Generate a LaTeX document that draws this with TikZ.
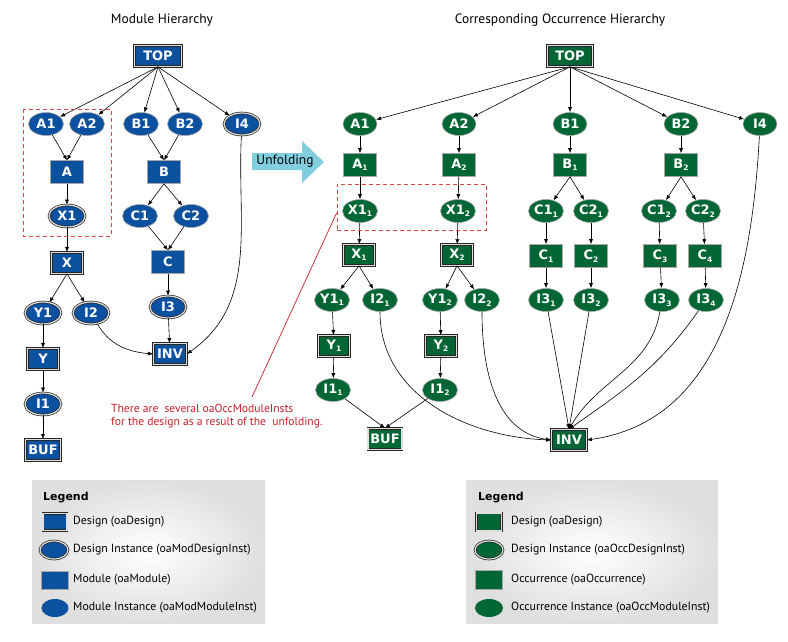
\documentclass[tikz,border=0pt]{standalone}
\usepackage{fontspec}
\setmainfont{PT Sans}
\newfontfamily\nodefont{DejaVu Sans}
\usetikzlibrary{arrows.meta,shapes.geometric}

\definecolor{modblue}{RGB}{12,80,160}
\definecolor{occgreen}{RGB}{0,102,51}
\definecolor{unfold}{RGB}{128,206,222}
\definecolor{notered}{RGB}{200,30,40}
\definecolor{dashred}{RGB}{222,70,70}

% small lowered index for occurrence names
\newcommand{\idx}[1]{\raisebox{-2.5pt}{\fontsize{7.5}{7.5}\selectfont #1}}

\tikzset{
  lbl/.style={text=white, font=\nodefont\bfseries\fontsize{13}{13}\selectfont, inner sep=0pt},
  modbox/.style={lbl, rectangle, draw=gray!70, line width=0.6pt, minimum width=33pt, minimum height=23pt},
  modoval/.style={lbl, ellipse, draw=gray!70, line width=0.6pt, minimum width=35pt, minimum height=23pt},
  desbox/.style={lbl, rectangle, draw=black!85, line width=0.7pt, double=gray!25, double distance=1.2pt, minimum width=31pt, minimum height=21pt},
  desoval/.style={lbl, ellipse, draw=black!85, line width=0.7pt, double=gray!25, double distance=1.2pt, minimum width=36pt, minimum height=22pt},
  mh/.style={fill=modblue},
  oh/.style={fill=occgreen},
  edge/.style={-{Latex[length=5pt,width=4pt]}, line width=0.6pt},
  dashbox/.style={draw=dashred, line width=0.8pt, dash pattern=on 4pt off 3pt},
  title/.style={font=\fontsize{13.5}{13.5}\selectfont},
  legtext/.style={font=\fontsize{11.8}{11.8}\selectfont, anchor=west, inner sep=0pt},
  leghead/.style={font=\nodefont\bfseries\fontsize{11}{11}\selectfont, anchor=west, inner sep=0pt},
}

\begin{document}
\begin{tikzpicture}[x=1pt,y=-1pt]
  \useasboundingbox (0,0) rectangle (788,641);

  % titles
  \node[title] (mtitle) at (162,20) {Module Hierarchy};
  \node[title] (otitle) at (560,20) {Corresponding Occurrence Hierarchy};

  % module hierarchy
  \node[desbox, mh, minimum width=47pt] (mTOP) at (158,56) {TOP};
  \node[modoval, mh] (mA1) at (46,124) {A1};
  \node[modoval, mh] (mA2) at (87,124) {A2};
  \node[modoval, mh] (mB1) at (141,124) {B1};
  \node[modoval, mh] (mB2) at (185,124) {B2};
  \node[desoval, mh] (mI4) at (242,124) {I4};
  \node[modbox, mh] (mA) at (67,172) {A};
  \node[modbox, mh] (mB) at (164,172) {B};
  \node[desoval, mh] (mX1) at (67,216) {X1};
  \node[modoval, mh] (mC1) at (140,216) {C1};
  \node[modoval, mh] (mC2) at (191,216) {C2};
  \node[desbox, mh] (mX) at (67,263) {X};
  \node[modbox, mh] (mC) at (168,262) {C};
  \node[desoval, mh] (mY1) at (43,313) {Y1};
  \node[desoval, mh] (mI2) at (91,313) {I2};
  \node[desoval, mh] (mI3) at (168,307) {I3};
  \node[desbox, mh, minimum width=33pt] (mINV) at (170,354) {INV};
  \node[desbox, mh] (mY) at (43,359) {Y};
  \node[desoval, mh] (mI1) at (43,404) {I1};
  \node[desbox, mh, minimum width=35pt] (mBUF) at (43,450) {BUF};

  \foreach \t in {mA1,mA2,mB1,mB2,mI4}
    \draw[edge] (mTOP.south) -- (\t);
  \draw[edge] (mA1) -- (mA.north);
  \draw[edge] (mA2) -- (mA.north);
  \draw[edge] (mB1) -- (mB.north);
  \draw[edge] (mB2) -- (mB.north);
  \draw[edge] (mA) -- (mX1);
  \draw[edge] (mB.south) -- (mC1);
  \draw[edge] (mB.south) -- (mC2);
  \draw[edge] (mC1) -- (mC.north);
  \draw[edge] (mC2) -- (mC.north);
  \draw[edge] (mX1) -- (mX);
  \draw[edge] (mX.south) -- (mY1);
  \draw[edge] (mX.south) -- (mI2);
  \draw[edge] (mY1) -- (mY);
  \draw[edge] (mY) -- (mI1);
  \draw[edge] (mI1) -- (mBUF);
  \draw[edge] (mC) -- (mI3);
  \draw[edge] (mI3) -- (mINV);
  \draw[edge] (mI2) to[out=-60, in=175] (mINV.west);
  \draw[edge] (mI4) to[out=-93, in=35] (mINV.east);

  \draw[dashbox] (23,109) rectangle (111,236);

  % unfolding arrow
  \fill[unfold] (252,153) -- (302,153) -- (302,141) -- (324,162) -- (302,183) -- (302,170) -- (252,170) -- cycle;
  \node[font=\fontsize{13.5}{13.5}\selectfont] (unfolding) at (285,161) {Unfolding};

  % occurrence hierarchy
  \node[desbox, oh, minimum width=45pt] (oTOP) at (570,56) {TOP};
  \node[modoval, oh, minimum width=34pt] (oA1) at (360,124) {A1};
  \node[modoval, oh, minimum width=34pt] (oA2) at (459,124) {A2};
  \node[modoval, oh, minimum width=34pt] (oB1) at (570,124) {B1};
  \node[modoval, oh, minimum width=34pt] (oB2) at (681,124) {B2};
  \node[modoval, oh, minimum width=34pt] (oI4) at (760,124) {I4};
  \node[modbox, oh] (oA1x) at (360,165) {A\idx{1}};
  \node[modbox, oh] (oA2x) at (459,165) {A\idx{2}};
  \node[modbox, oh] (oB1x) at (570,165) {B\idx{1}};
  \node[modbox, oh] (oB2x) at (681,165) {B\idx{2}};
  \node[modoval, oh] (oX11) at (360,211) {X1\idx{1}};
  \node[modoval, oh] (oX12) at (458,211) {X1\idx{2}};
  \node[modoval, oh] (oC11) at (546,211) {C1\idx{1}};
  \node[modoval, oh] (oC21) at (591,211) {C2\idx{1}};
  \node[modoval, oh] (oC12) at (659,211) {C1\idx{2}};
  \node[modoval, oh] (oC22) at (703,211) {C2\idx{2}};
  \node[desbox, oh] (oX1) at (359,255) {X\idx{1}};
  \node[desbox, oh] (oX2) at (457,255) {X\idx{2}};
  \node[modbox, oh] (oC1) at (546,256) {C\idx{1}};
  \node[modbox, oh] (oC2) at (591,256) {C\idx{2}};
  \node[modbox, oh] (oC3) at (660,256) {C\idx{3}};
  \node[modbox, oh] (oC4) at (705,256) {C\idx{4}};
  \node[modoval, oh] (oY11) at (332,300) {Y1\idx{1}};
  \node[modoval, oh] (oI21) at (380,300) {I2\idx{1}};
  \node[modoval, oh] (oY12) at (440,300) {Y1\idx{2}};
  \node[modoval, oh] (oI22) at (482,300) {I2\idx{2}};
  \node[modoval, oh] (oI31) at (546,300) {I3\idx{1}};
  \node[modoval, oh] (oI32) at (591,300) {I3\idx{2}};
  \node[modoval, oh] (oI33) at (662,300) {I3\idx{3}};
  \node[modoval, oh] (oI34) at (706,300) {I3\idx{4}};
  \node[desbox, oh] (oY1) at (334,346) {Y\idx{1}};
  \node[desbox, oh] (oY2) at (441,346) {Y\idx{2}};
  \node[modoval, oh] (oI11) at (333,390) {I1\idx{1}};
  \node[modoval, oh] (oI12) at (440,390) {I1\idx{2}};
  \node[desbox, oh, minimum width=34pt] (oBUF) at (385,439) {BUF};
  \node[desbox, oh, minimum width=35pt] (oINV) at (569,440) {INV};

  \foreach \t in {oA1,oA2,oB1,oB2,oI4}
    \draw[edge] (oTOP.south) -- (\t);
  \draw[edge] (oA1) -- (oA1x);
  \draw[edge] (oA2) -- (oA2x);
  \draw[edge] (oB1) -- (oB1x);
  \draw[edge] (oB2) -- (oB2x);
  \draw[edge] (oA1x) -- (oX11);
  \draw[edge] (oA2x) -- (oX12);
  \draw[edge] (oB1x.south) -- (oC11);
  \draw[edge] (oB1x.south) -- (oC21);
  \draw[edge] (oB2x.south) -- (oC12);
  \draw[edge] (oB2x.south) -- (oC22);
  \draw[edge] (oX11) -- (oX1);
  \draw[edge] (oX12) -- (oX2);
  \draw[edge] (oC11) -- (oC1);
  \draw[edge] (oC21) -- (oC2);
  \draw[edge] (oC12) -- (oC3);
  \draw[edge] (oC22) -- (oC4);
  \draw[edge] (oC1) -- (oI31);
  \draw[edge] (oC2) -- (oI32);
  \draw[edge] (oC3) -- (oI33);
  \draw[edge] (oC4) -- (oI34);
  \draw[edge] (oX1.south) -- (oY11);
  \draw[edge] (oX1.south) -- (oI21);
  \draw[edge] (oX2.south) -- (oY12);
  \draw[edge] (oX2.south) -- (oI22);
  \draw[edge] (oY11) -- (oY1);
  \draw[edge] (oY12) -- (oY2);
  \draw[edge] (oY1) -- (oI11);
  \draw[edge] (oY2) -- (oI12);
  \draw[edge] (oI11) -- (oBUF.north);
  \draw[edge] (oI12) -- (oBUF.north);
  \draw[edge] (oI21) to[out=-90, in=178] (oINV.west);
  \draw[edge] (oI22) to[out=-90, in=172] (oINV.west);
  \draw[edge] (oI31) -- (oINV.north);
  \draw[edge] (oI32) -- (oINV.north);
  \draw[edge] (oI33) to[out=-100, in=60] (oINV.north);
  \draw[edge] (oI34) to[out=-125, in=35] (oINV.north);
  \draw[edge] (oI4) to[out=-93, in=8] (oINV.east);

  \node[dashbox, minimum width=149pt, minimum height=46pt] (xbox) at (411.5,207) {};

  % note on the unfolding
  \node[text=notered, font=\fontsize{11.6}{13.5}\selectfont, anchor=north west, align=left, inner sep=0pt] (note) at (111,404)
    {There are\ \ several oaOccModuleInsts\\for the design as a result of the\ \ unfolding.};
  \coordinate (ntip) at (252,397);
  \draw[notered, line width=0.7pt] (ntip) -- ([yshift=-6pt]xbox.west);

  % legends
  \shade[inner color=white, outer color=gray!25] (32,480) rectangle (265,623);
  \shade[inner color=white, outer color=gray!25] (466,480) rectangle (718,623);

  \node[leghead] (mleg) at (43,497) {Legend};
  \node[desbox, mh, minimum width=24pt, minimum height=17pt] (mk1) at (55,522) {};
  \node[desoval, mh, minimum width=28pt, minimum height=18pt] (mk2) at (54,550) {};
  \node[modbox, mh, minimum width=27pt, minimum height=18pt] (mk3) at (55,580) {};
  \node[modoval, mh, minimum width=27pt, minimum height=18pt, draw=none] (mk4) at (55,608) {};
  \node[legtext] at (73,522) {Design (oaDesign)};
  \node[legtext] at (73,550) {Design Instance (oaModDesignInst)};
  \node[legtext] at (73,580) {Module (oaModule)};
  \node[legtext] at (73,608) {Module Instance (oaModModuleInst)};

  \node[leghead] (oleg) at (478,497) {Legend};
  \node[desbox, oh, minimum width=25pt, minimum height=18pt] (ok1) at (489,522) {};
  \node[desoval, oh, minimum width=28pt, minimum height=18pt] (ok2) at (489,550) {};
  \node[modbox, oh, minimum width=27pt, minimum height=19pt] (ok3) at (489,580) {};
  \node[modoval, oh, minimum width=28pt, minimum height=18pt, draw=none] (ok4) at (489,608) {};
  \node[legtext] at (511,522) {Design (oaDesign)};
  \node[legtext] at (511,550) {Design Instance (oaOccDesignInst)};
  \node[legtext] at (511,580) {Occurrence (oaOccurrence)};
  \node[legtext] at (511,608) {Occurrence Instance (oaOccModuleInst)};
\end{tikzpicture}
\end{document}
